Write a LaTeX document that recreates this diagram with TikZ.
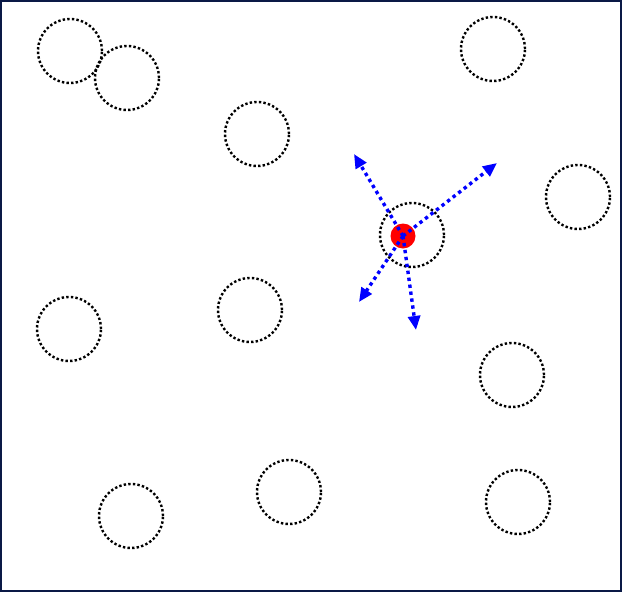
\documentclass[tikz,border=0pt]{standalone}
\usetikzlibrary{arrows.meta}
\definecolor{frame}{RGB}{10,25,70}
\begin{document}
\begin{tikzpicture}[x=1pt,y=-1pt,
  ring/.style={circle,draw=black,dash pattern=on 2.4pt off 2.2pt,line width=2.4pt,minimum size=64pt,inner sep=0pt},
  agent/.style={circle,fill=red,minimum size=25pt,inner sep=0pt},
  move/.style={draw=blue,line width=3.4pt,dash pattern=on 3.4pt off 3.6pt,-{Triangle[length=14pt,width=12pt]}}]
\useasboundingbox (0,0) rectangle (622,592);
\draw[frame,line width=2pt] (1,1) rectangle (621,591);
\node[ring] (c1) at (70,51) {};
\node[ring] (c2) at (127,78) {};
\node[ring] (c3) at (257,134) {};
\node[ring] (c4) at (493,49) {};
\node[ring] (c5) at (578,197) {};
\node[ring] (c6) at (412,235) {};
\node[ring] (c7) at (69,329) {};
\node[ring] (c8) at (250,310) {};
\node[ring] (c9) at (512,375) {};
\node[ring] (c10) at (289,492) {};
\node[ring] (c11) at (131,516) {};
\node[ring] (c12) at (518,502) {};
\node[agent] (r) at (403,236) {};
\coordinate (t1) at (354,154);
\coordinate (t2) at (497,163);
\coordinate (t3) at (359,302);
\coordinate (t4) at (416,330);
\draw[move] (r.center) -- (t1);
\draw[move] (r.center) -- (t2);
\draw[move] (r.center) -- (t3);
\draw[move] (r.center) -- (t4);
\end{tikzpicture}
\end{document}
